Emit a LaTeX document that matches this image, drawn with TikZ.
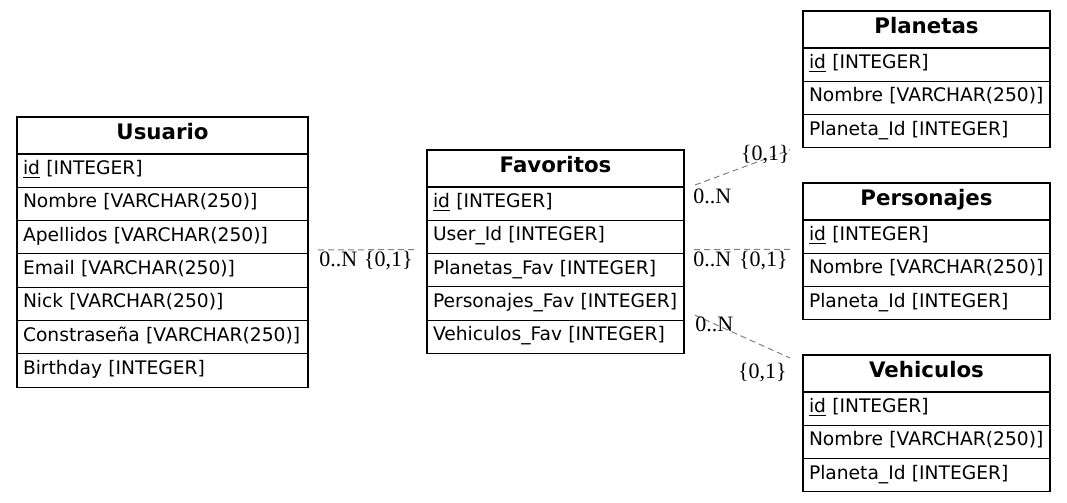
\documentclass[tikz,border=0pt]{standalone}
\usepackage{fontspec}
\setmainfont{DejaVu Sans}
\newfontfamily\lblfont{Liberation Serif}
\usetikzlibrary{positioning}

\tikzset{
  hdr/.style={draw, line width=0.8pt, outer sep=0pt, minimum width=#1, minimum height=27.75pt, inner sep=0pt, text height=11pt, text depth=5pt, font=\fontsize{16}{18}\selectfont\bfseries},
  fld/.style={draw, line width=0.8pt, outer sep=0pt, text width=#1, minimum height=24.975pt, inner xsep=4.5pt, inner ysep=0pt, text height=10pt, text depth=4pt, align=left, font=\fontsize{14}{16}\selectfont},
  rel/.style={draw=gray, line width=0.75pt, dash pattern=on 4.5pt off 3pt},
  card/.style={inner sep=0pt, font=\lblfont\fontsize{16.5}{19}\selectfont}
}

\begin{document}
\begin{tikzpicture}[x=0.75pt, y=-0.75pt]
	\useasboundingbox (0,0) rectangle (1067,503);

	% Usuario
	\node[hdr=218.25pt, anchor=north west] (usu0) at (17,117) {Usuario};
	\node[fld=209.25pt, below=0pt of usu0] (usu1) {\underline{id} [INTEGER]};
	\node[fld=209.25pt, below=0pt of usu1] (usu2) {Nombre [VARCHAR(250)]};
	\node[fld=209.25pt, below=0pt of usu2] (usu3) {Apellidos [VARCHAR(250)]};
	\node[fld=209.25pt, below=0pt of usu3] (usu4) {Email [VARCHAR(250)]};
	\node[fld=209.25pt, below=0pt of usu4] (usu5) {Nick [VARCHAR(250)]};
	\node[fld=209.25pt, below=0pt of usu5] (usu6) {Constraseña [VARCHAR(250)]};
	\node[fld=209.25pt, below=0pt of usu6] (usu7) {Birthday [INTEGER]};

	% Favoritos
	\node[hdr=192.75pt, anchor=north west] (fav0) at (427,150) {Favoritos};
	\node[fld=183.75pt, below=0pt of fav0] (fav1) {\underline{id} [INTEGER]};
	\node[fld=183.75pt, below=0pt of fav1] (fav2) {User\_Id [INTEGER]};
	\node[fld=183.75pt, below=0pt of fav2] (fav3) {Planetas\_Fav [INTEGER]};
	\node[fld=183.75pt, below=0pt of fav3] (fav4) {Personajes\_Fav [INTEGER]};
	\node[fld=183.75pt, below=0pt of fav4] (fav5) {Vehiculos\_Fav [INTEGER]};

	% Planetas
	\node[hdr=185.25pt, anchor=north west] (pla0) at (803,11) {Planetas};
	\node[fld=176.25pt, below=0pt of pla0] (pla1) {\underline{id} [INTEGER]};
	\node[fld=176.25pt, below=0pt of pla1] (pla2) {Nombre [VARCHAR(250)]};
	\node[fld=176.25pt, below=0pt of pla2] (pla3) {Planeta\_Id [INTEGER]};

	% Personajes
	\node[hdr=185.25pt, anchor=north west] (per0) at (803,183) {Personajes};
	\node[fld=176.25pt, below=0pt of per0] (per1) {\underline{id} [INTEGER]};
	\node[fld=176.25pt, below=0pt of per1] (per2) {Nombre [VARCHAR(250)]};
	\node[fld=176.25pt, below=0pt of per2] (per3) {Planeta\_Id [INTEGER]};

	% Vehiculos
	\node[hdr=185.25pt, anchor=north west] (veh0) at (803,355) {Vehiculos};
	\node[fld=176.25pt, below=0pt of veh0] (veh1) {\underline{id} [INTEGER]};
	\node[fld=176.25pt, below=0pt of veh1] (veh2) {Nombre [VARCHAR(250)]};
	\node[fld=176.25pt, below=0pt of veh2] (veh3) {Planeta\_Id [INTEGER]};

	% relations
	\coordinate (usufav1) at ([shift={(10,-4)}]usu3.south east);
	\coordinate (usufav2) at ([shift={(-10,-4)}]fav2.south west);
	\draw[rel] (usufav1) -- (usufav2);
	\node[card, anchor=base west] (usufavn) at ([shift={(1,17)}]usufav1) {0..N};
	\node[card, anchor=base east] (usufavo) at ([shift={(-4,17)}]usufav2) {\{0,1\}};

	\coordinate (favpla1) at ([shift={(11,-2)}]fav0.south east);
	\coordinate (favpla2) at ([shift={(-13,2)}]pla3.south west);
	\draw[rel] (favpla1) -- (favpla2);
	\node[card, anchor=base west] (favplan) at ([shift={(-2,18)}]favpla1) {0..N};
	\node[card, anchor=base east] (favplao) at ([shift={(0,11)}]favpla2) {\{0,1\}};

	\coordinate (favper1) at ([shift={(10,-4)}]fav2.south east);
	\coordinate (favper2) at ([shift={(-10,-4)}]per1.south west);
	\draw[rel] (favper1) -- (favper2);
	\node[card, anchor=base west] (favpern) at ([shift={(-1,17)}]favper1) {0..N};
	\node[card, anchor=base east] (favpero) at ([shift={(-5,17)}]favper2) {\{0,1\}};

	\coordinate (favveh1) at ([shift={(11,-5)}]fav4.south east);
	\coordinate (favveh2) at ([shift={(-13,3)}]veh0.north west);
	\draw[rel] (favveh1) -- (favveh2);
	\node[card, anchor=base west] (favvehn) at ([shift={(0,16)}]favveh1) {0..N};
	\node[card, anchor=base east] (favveho) at ([shift={(-3,20)}]favveh2) {\{0,1\}};
\end{tikzpicture}
\end{document}
